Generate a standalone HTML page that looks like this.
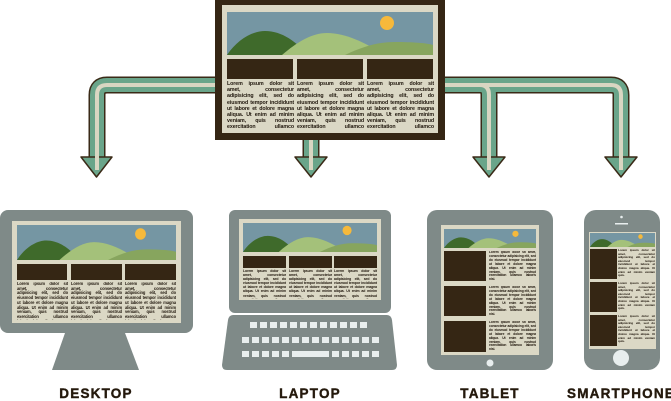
<!DOCTYPE html>
<html><head><meta charset="utf-8"><style>
*{margin:0;padding:0;box-sizing:border-box}
body{width:671px;height:400px;background:#fff;position:relative;overflow:hidden;font-family:"Liberation Sans",sans-serif}
.a{position:absolute}
.t{position:absolute;font-weight:bold;color:#1f160c;text-align:justify;overflow:hidden;letter-spacing:-0.1px}
.lbl{position:absolute;top:386px;font-weight:bold;font-size:13.5px;letter-spacing:1.2px;color:#24190c;transform:translateX(-50%);white-space:nowrap;-webkit-text-stroke:0.4px #24190c}
.d{position:absolute;background:#352614}
</style></head><body>
<svg width="0" height="0" style="position:absolute"><defs>
<symbol id="ls" viewBox="0 0 206 43" preserveAspectRatio="none">
<rect width="206" height="43" fill="#7596a3"/>
<circle cx="160" cy="11" r="7" fill="#f6b93b"/>
<path d="M0 43 C10 28 25 19 38 19 C55 19 70 30 80 43Z" fill="#3f6a2b"/>
<path d="M55 43 C70 30 85 21 100 21 C120 21 140 32 158 43Z" fill="#a4c17a"/>
<path d="M118 43 C135 35 150 30 168 30 C185 30 200 31 206 33 L206 43Z" fill="#87a55e"/>
</symbol></defs></svg>

<svg class="a" style="left:0;top:0" width="671" height="400">
<g fill="none" stroke-linejoin="round" stroke-linecap="butt">
<g stroke="#3a2a17" stroke-width="17">
<path d="M215 85 H107 Q97 85 97 95 V160"/>
<path d="M311 135 V160"/>
<path d="M444 85 H480 Q489 85 489 95 V160"/>
<path d="M444 85 H611 Q621 85 621 95 V160"/>
</g>
<g stroke="#6aa58a" stroke-width="14">
<path d="M215 85 H107 Q97 85 97 95 V161"/>
<path d="M311 135 V161"/>
<path d="M444 85 H480 Q489 85 489 95 V161"/>
<path d="M444 85 H611 Q621 85 621 95 V161"/>
</g>
<g stroke="#d9d6c2" stroke-width="4">
<path d="M215 85 H107 Q97 85 97 95 V170"/>
<path d="M311 135 V170"/>
<path d="M444 85 H480 Q489 85 489 95 V170"/>
<path d="M444 85 H611 Q621 85 621 95 V170"/>
</g>
<g stroke="#3a2a17" stroke-width="1.5" fill="#6aa58a">
<polygon points="81,157 112,157 96.5,177"/>
<polygon points="295,157 327,157 311,177"/>
<polygon points="473,157 505,157 489,177"/>
<polygon points="605,157 637,157 621,177"/>
</g>
<g stroke="#d9d6c2" stroke-width="4">
<path d="M97 150 V170"/><path d="M311 150 V170"/><path d="M489 150 V170"/><path d="M621 150 V170"/>
</g>
</g>
<rect x="0" y="210" width="193" height="123" rx="8" fill="#7f8a88"/>
<polygon points="65,333 125,333 139,370 52,370" fill="#7f8a88"/>
<rect x="229" y="210" width="162" height="103" rx="6" fill="#7f8a88"/>
<path d="M233 315 H387 Q391 315 392 320 L397 365 Q397 370 392 370 H227 Q222 370 222 365 L228 320 Q229 315 233 315Z" fill="#7f8a88"/>
<g fill="#e8eeee">
<rect x="250" y="322" width="7" height="6"/><rect x="260" y="322" width="7" height="6"/><rect x="270" y="322" width="7" height="6"/><rect x="280" y="322" width="7" height="6"/><rect x="290" y="322" width="7" height="6"/><rect x="300" y="322" width="7" height="6"/><rect x="310" y="322" width="7" height="6"/><rect x="320" y="322" width="7" height="6"/><rect x="330" y="322" width="7" height="6"/><rect x="340" y="322" width="7" height="6"/><rect x="350" y="322" width="7" height="6"/><rect x="360" y="322" width="7" height="6"/>
<rect x="242" y="337" width="7" height="6"/><rect x="252" y="337" width="7" height="6"/><rect x="262" y="337" width="7" height="6"/><rect x="272" y="337" width="7" height="6"/><rect x="282" y="337" width="7" height="6"/><rect x="292" y="337" width="7" height="6"/><rect x="302" y="337" width="7" height="6"/><rect x="312" y="337" width="7" height="6"/><rect x="322" y="337" width="7" height="6"/><rect x="332" y="337" width="7" height="6"/><rect x="342" y="337" width="7" height="6"/><rect x="352" y="337" width="7" height="6"/><rect x="362" y="337" width="7" height="6"/><rect x="372" y="337" width="7" height="6"/>
<rect x="242" y="351" width="7" height="6"/><rect x="252" y="351" width="7" height="6"/><rect x="262" y="351" width="7" height="6"/><rect x="272" y="351" width="7" height="6"/><rect x="282" y="351" width="7" height="6"/><rect x="292" y="351" width="37" height="6"/><rect x="332" y="351" width="7" height="6"/><rect x="342" y="351" width="7" height="6"/><rect x="352" y="351" width="7" height="6"/><rect x="362" y="351" width="7" height="6"/><rect x="372" y="351" width="7" height="6"/>
</g>
<rect x="427" y="210" width="126" height="160" rx="10" fill="#7f8a88"/>
<circle cx="490" cy="363" r="3.5" fill="#e8eeee"/>
<rect x="584" y="210" width="76" height="160" rx="12" fill="#7f8a88"/>
<circle cx="621" cy="358" r="8" fill="#e8eeee"/>
<circle cx="621.5" cy="217" r="1.3" fill="#e8eeee"/>
<rect x="615" y="223" width="13" height="1.5" fill="#e8eeee"/>
<rect x="215" y="0" width="230" height="140" fill="#352614"/>
<rect x="222" y="5" width="216" height="128" fill="#dbd8c5"/>
<rect x="12" y="221" width="169" height="102" fill="#dbd8c5"/>
<rect x="239" y="219" width="142" height="81" fill="#dbd8c5"/>
<rect x="441" y="225" width="98" height="130" fill="#dbd8c5"/>
<rect x="589" y="232" width="67" height="117" fill="#dbd8c5"/>
<svg x="227" y="12" width="206" height="43"><use href="#ls"/></svg>
<svg x="17" y="225" width="159" height="35"><use href="#ls"/></svg>
<svg x="243" y="223" width="134" height="29"><use href="#ls"/></svg>
<svg x="444" y="229" width="92" height="19"><use href="#ls"/></svg>
<svg x="590" y="233" width="65" height="14"><use href="#ls"/></svg>
</svg>

<div class="d" style="left:227px;top:59px;width:66px;height:20px"></div>
<div class="d" style="left:297px;top:59px;width:66px;height:20px"></div>
<div class="d" style="left:367px;top:59px;width:66px;height:20px"></div>
<div class="t" style="left:227px;top:81px;width:67px;height:50px;font-size:5.3px;line-height:6.2px">Lorem ipsum dolor sit amet, consectetur adipisicing elit, sed do eiusmod tempor incididunt ut labore et dolore magna aliqua. Ut enim ad minim veniam, quis nostrud exercitation ullamco laboris nisi ut aliquip ex ea.</div>
<div class="t" style="left:297px;top:81px;width:67px;height:50px;font-size:5.3px;line-height:6.2px">Lorem ipsum dolor sit amet, consectetur adipisicing elit, sed do eiusmod tempor incididunt ut labore et dolore magna aliqua. Ut enim ad minim veniam, quis nostrud exercitation ullamco laboris nisi ut aliquip ex ea.</div>
<div class="t" style="left:367px;top:81px;width:67px;height:50px;font-size:5.3px;line-height:6.2px">Lorem ipsum dolor sit amet, consectetur adipisicing elit, sed do eiusmod tempor incididunt ut labore et dolore magna aliqua. Ut enim ad minim veniam, quis nostrud exercitation ullamco laboris nisi ut aliquip ex ea.</div>

<div class="d" style="left:17px;top:264px;width:50px;height:16px"></div>
<div class="d" style="left:71px;top:264px;width:51px;height:16px"></div>
<div class="d" style="left:125px;top:264px;width:51px;height:16px"></div>
<div class="t" style="left:17px;top:282px;width:51px;height:38px;font-size:4.1px;line-height:4.7px">Lorem ipsum dolor sit amet, consectetur adipisicing elit, sed do eiusmod tempor incididunt ut labore et dolore magna aliqua. Ut enim ad minim veniam, quis nostrud exercitation ullamco laboris nisi ut aliquip ex ea.</div>
<div class="t" style="left:71px;top:282px;width:51px;height:38px;font-size:4.1px;line-height:4.7px">Lorem ipsum dolor sit amet, consectetur adipisicing elit, sed do eiusmod tempor incididunt ut labore et dolore magna aliqua. Ut enim ad minim veniam, quis nostrud exercitation ullamco laboris nisi ut aliquip ex ea.</div>
<div class="t" style="left:125px;top:282px;width:51px;height:38px;font-size:4.1px;line-height:4.7px">Lorem ipsum dolor sit amet, consectetur adipisicing elit, sed do eiusmod tempor incididunt ut labore et dolore magna aliqua. Ut enim ad minim veniam, quis nostrud exercitation ullamco laboris nisi ut aliquip ex ea.</div>

<div class="d" style="left:243px;top:256px;width:43px;height:12px"></div>
<div class="d" style="left:289px;top:256px;width:43px;height:12px"></div>
<div class="d" style="left:334px;top:256px;width:43px;height:12px"></div>
<div class="t" style="left:243px;top:269px;width:43px;height:30px;font-size:3.5px;line-height:4.1px">Lorem ipsum dolor sit amet, consectetur adipisicing elit, sed do eiusmod tempor incididunt ut labore et dolore magna aliqua. Ut enim ad minim veniam, quis nostrud exercitation ullamco laboris nisi ut aliquip ex ea.</div>
<div class="t" style="left:289px;top:269px;width:43px;height:30px;font-size:3.5px;line-height:4.1px">Lorem ipsum dolor sit amet, consectetur adipisicing elit, sed do eiusmod tempor incididunt ut labore et dolore magna aliqua. Ut enim ad minim veniam, quis nostrud exercitation ullamco laboris nisi ut aliquip ex ea.</div>
<div class="t" style="left:334px;top:269px;width:43px;height:30px;font-size:3.5px;line-height:4.1px">Lorem ipsum dolor sit amet, consectetur adipisicing elit, sed do eiusmod tempor incididunt ut labore et dolore magna aliqua. Ut enim ad minim veniam, quis nostrud exercitation ullamco laboris nisi ut aliquip ex ea.</div>

<div class="d" style="left:444px;top:251px;width:42px;height:30px"></div>
<div class="d" style="left:444px;top:286px;width:42px;height:30px"></div>
<div class="d" style="left:444px;top:321px;width:42px;height:31px"></div>
<div class="t" style="left:489px;top:251px;width:47px;height:30px;font-size:3.3px;line-height:3.9px">Lorem ipsum dolor sit amet, consectetur adipisicing elit, sed do eiusmod tempor incididunt ut labore et dolore magna aliqua. Ut enim ad minim veniam, quis nostrud exercitation ullamco laboris nisi.</div>
<div class="t" style="left:489px;top:286px;width:47px;height:30px;font-size:3.3px;line-height:3.9px">Lorem ipsum dolor sit amet, consectetur adipisicing elit, sed do eiusmod tempor incididunt ut labore et dolore magna aliqua. Ut enim ad minim veniam, quis nostrud exercitation ullamco laboris nisi.</div>
<div class="t" style="left:489px;top:321px;width:47px;height:30px;font-size:3.3px;line-height:3.9px">Lorem ipsum dolor sit amet, consectetur adipisicing elit, sed do eiusmod tempor incididunt ut labore et dolore magna aliqua. Ut enim ad minim veniam, quis nostrud exercitation ullamco laboris nisi.</div>

<div class="d" style="left:590px;top:249px;width:27px;height:30px"></div>
<div class="d" style="left:590px;top:282px;width:27px;height:30px"></div>
<div class="d" style="left:590px;top:315px;width:27px;height:31px"></div>
<div class="t" style="left:618px;top:249px;width:37px;height:30px;font-size:3.1px;line-height:3.6px">Lorem ipsum dolor sit amet, consectetur adipisicing elit, sed do eiusmod tempor incididunt ut labore et dolore magna aliqua. Ut enim ad minim veniam quis.</div>
<div class="t" style="left:618px;top:282px;width:37px;height:30px;font-size:3.1px;line-height:3.6px">Lorem ipsum dolor sit amet, consectetur adipisicing elit, sed do eiusmod tempor incididunt ut labore et dolore magna aliqua. Ut enim ad minim veniam quis.</div>
<div class="t" style="left:618px;top:315px;width:37px;height:30px;font-size:3.1px;line-height:3.6px">Lorem ipsum dolor sit amet, consectetur adipisicing elit, sed do eiusmod tempor incididunt ut labore et dolore magna aliqua. Ut enim ad minim veniam quis.</div>

<div class="lbl" style="left:96px">DESKTOP</div>
<div class="lbl" style="left:310px">LAPTOP</div>
<div class="lbl" style="left:490px">TABLET</div>
<div class="lbl" style="left:621px">SMARTPHONE</div>
</body></html>
